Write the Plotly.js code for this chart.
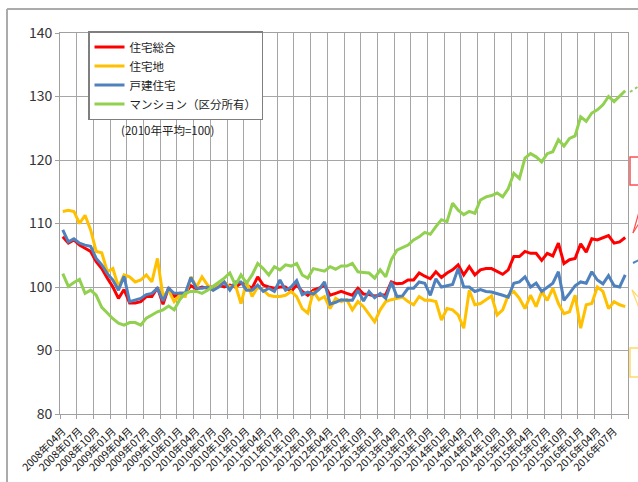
<!DOCTYPE html>
<html><head><meta charset="utf-8">
<script src="https://cdn.plot.ly/plotly-3.0.1.min.js"></script>
<style>html,body{margin:0;padding:0;background:#fff;} #chart{width:638px;height:482px;}</style>
</head><body><div id="chart"></div>
<script>
// Categories: monthly, 2008年04月 .. 2016年09月
const startYear = 2008, startMonth = 4, monthCount = 102;
const months = [];
for (let k = 0; k < monthCount; k++) {
  const m = startMonth - 1 + k;
  const y = startYear + Math.floor(m / 12);
  const mm = (m % 12) + 1;
  months.push(y + '年' + (mm < 10 ? '0' : '') + mm + '月');
}
const seriesNames = ['住宅総合', '住宅地', '戸建住宅', 'マンション（区分所有）'];
const noteText = '(2010年平均=100)';
const yTicks = [80, 90, 100, 110, 120, 130, 140];

const sogo = [107.9,106.9,107.4,106.6,106.1,105.6,104.0,102.9,101.4,100.0,
 98.2,99.6,97.5,97.5,97.7,98.5,98.5,99.9,97.3,99.9,
 98.5,99.0,99.0,100.2,99.7,100.0,99.8,100.0,100.3,100.0,
 100.3,100.0,100.6,100.3,99.8,101.6,100.3,100.0,99.8,100.0,
 100.0,99.3,100.3,99.3,98.7,99.5,99.8,100.3,98.7,99.0,
 99.3,99.0,98.7,99.8,98.9,98.8,98.6,98.7,98.8,100.8,
 100.5,100.6,101.1,101.1,102.2,101.7,101.3,102.4,101.5,102.2,
 102.7,103.5,101.9,103.2,101.9,102.7,102.9,102.9,102.4,102.0,
 102.7,104.8,104.8,105.6,105.3,105.3,104.2,105.3,104.9,106.9,
 103.7,104.3,104.5,106.8,105.5,107.6,107.4,107.8,108.1,106.9,
 107.1,107.8];
const takuchi = [111.9,112.1,111.9,110.0,111.3,109.0,105.6,105.4,102.4,102.9,
 100.0,101.9,101.6,100.8,101.1,101.9,100.8,104.5,98.5,99.5,
 97.7,98.7,98.5,101.6,100.0,101.6,100.3,99.5,100.3,100.8,
 100.0,100.3,97.4,100.8,98.5,100.0,99.5,98.7,98.5,98.5,
 98.7,99.3,98.5,96.6,95.9,99.3,98.0,98.5,96.6,98.2,
 97.7,98.0,96.4,97.7,96.9,95.6,94.5,96.4,97.7,98.0,
 98.2,98.4,97.7,97.2,98.5,97.9,97.9,97.7,94.8,96.6,
 96.4,95.6,93.5,99.5,97.2,97.4,98.0,98.6,95.6,96.4,
 98.7,99.3,98.2,96.6,98.7,96.9,99.3,97.9,99.8,97.4,
 95.8,96.1,98.7,93.5,97.2,97.4,100.0,99.3,96.6,97.7,
 97.2,96.9];
const kodate = [109.0,107.1,107.6,106.9,106.6,106.4,104.5,103.5,102.1,101.1,
 99.5,101.7,97.7,97.9,98.2,98.8,99.0,99.8,97.8,99.8,
 99.0,99.0,99.0,101.5,99.8,99.8,100.0,99.5,100.0,100.8,
 99.5,100.8,100.8,99.5,99.5,100.3,99.3,99.8,99.3,101.1,
 99.5,100.0,101.0,98.8,99.2,98.9,99.6,100.8,97.3,97.6,
 98.0,97.9,97.9,99.5,97.8,99.3,98.3,99.0,98.2,100.8,
 98.5,98.6,99.8,99.8,100.8,100.6,98.7,101.3,100.0,100.2,
 100.4,102.9,100.0,100.0,99.3,99.6,99.3,99.2,99.0,98.7,
 98.4,100.6,100.8,101.6,100.0,100.6,99.3,100.0,100.6,102.4,
 97.9,99.0,100.2,100.8,100.6,102.4,101.1,100.5,101.8,100.2,
 100.0,101.9];
const mansion = [102.1,100.1,100.7,101.2,99.0,99.5,98.7,96.8,95.9,95.0,
 94.3,94.0,94.4,94.4,94.0,95.1,95.6,96.1,96.4,97.0,
 96.4,98.0,99.0,99.3,99.3,99.0,99.5,100.1,100.8,101.4,
 102.2,100.3,101.9,100.6,101.9,103.7,102.9,101.9,103.2,102.7,
 103.5,103.3,103.7,101.9,101.4,102.9,102.7,102.5,103.2,102.8,
 103.3,103.3,103.7,102.4,102.3,102.2,101.4,102.7,101.6,104.3,
 105.8,106.2,106.6,107.4,107.9,108.6,108.3,109.5,110.6,110.3,
 113.2,112.1,111.4,111.9,111.6,113.7,114.2,114.4,114.8,114.2,
 115.5,117.9,117.1,120.3,121.0,120.5,119.7,121.0,121.3,123.2,
 122.2,123.4,123.8,126.8,126.1,127.4,127.9,128.7,130.0,129.2,
 130.0,130.9];

const colors = ['#ff0000', '#ffc000', '#4f81bd', '#92d050'];
const allSeries = [sogo, takuchi, kodate, mansion];

const traces = allSeries.map((vals, k) => ({
  type: 'scatter', mode: 'lines', x: months, y: vals, name: seriesNames[k],
  line: {color: colors[k], width: 3}, hoverinfo: 'skip'
}));

// plot area in px: left 60, right 628, top 33, bottom 414
const W = 638, H = 482, L = 60, R = 10, T = 33, B = 68;
const pw = W - L - R, ph = H - T - B;
const px = x => (x - L) / pw;
const py = y => (H - B - y) / ph;

const shapes = [
  // outer chart-area frame
  {type:'line', xref:'paper', yref:'paper', x0:px(7), y0:py(9), x1:px(700), y1:py(9), line:{color:'#ababab', width:2}},
  {type:'line', xref:'paper', yref:'paper', x0:px(7), y0:py(9), x1:px(7), y1:py(520), line:{color:'#ababab', width:2}},
  // cut-off callouts at right edge
  {type:'line', xref:'paper', yref:'paper', x0:px(630), y0:py(92), x1:px(642), y1:py(84), line:{color:'#9bc86a', width:2, dash:'dot'}},
  {type:'rect', xref:'paper', yref:'paper', x0:px(630), y0:py(157), x1:px(670), y1:py(185), line:{color:'#ff5050', width:1.5}},
  {type:'line', xref:'paper', yref:'paper', x0:px(633), y0:py(233), x1:px(641), y1:py(205), line:{color:'#ff5050', width:1.2}},
  {type:'line', xref:'paper', yref:'paper', x0:px(633), y0:py(233), x1:px(641), y1:py(220), line:{color:'#ff5050', width:1.2}},
  {type:'line', xref:'paper', yref:'paper', x0:px(633), y0:py(263), x1:px(641), y1:py(259), line:{color:'#4f81bd', width:2}},
  {type:'line', xref:'paper', yref:'paper', x0:px(632), y0:py(290), x1:px(641), y1:py(313), line:{color:'#ffd966', width:1.2}},
  {type:'line', xref:'paper', yref:'paper', x0:px(632), y0:py(290), x1:px(641), y1:py(300), line:{color:'#ffd966', width:1.2}},
  {type:'rect', xref:'paper', yref:'paper', x0:px(630), y0:py(348), x1:px(670), y1:py(377), line:{color:'#ffd966', width:1.5}}
];

const layout = {
  width: W, height: H,
  margin: {l: L, r: R, t: T, b: B, pad: 0},
  paper_bgcolor: '#ffffff', plot_bgcolor: '#ffffff',
  font: {family: '"Noto Sans CJK JP", sans-serif', color: '#333333'},
  showlegend: true,
  legend: {
    x: px(88), y: py(31), xanchor: 'left', yanchor: 'top',
    bgcolor: '#ffffff', bordercolor: '#7f7f7f', borderwidth: 1.5,
    font: {family: '"Noto Sans CJK JP", sans-serif', size: 11.5, color: '#222222'},
    tracegroupgap: 0, itemwidth: 30
  },
  xaxis: {
    type: 'category', categoryorder: 'array', categoryarray: months,
    range: [-0.5, monthCount - 0.5],
    tickmode: 'linear', tick0: 0, dtick: 3, tickson: 'boundaries',
    tickangle: -45, ticks: 'outside', ticklen: 4, tickcolor: '#a0a0a0',
    ticklabelstandoff: 6,
    showgrid: true, gridcolor: '#a6a6a6', gridwidth: 1,
    showline: true, linecolor: '#a0a0a0', linewidth: 1, mirror: true,
    tickfont: {family: '"Noto Sans CJK JP", sans-serif', size: 10.5, color: '#111111'},
    zeroline: false, fixedrange: true
  },
  yaxis: {
    range: [80, 140], tickmode: 'array', tickvals: yTicks, ticktext: yTicks.map(String),
    ticks: 'outside', ticklen: 4, tickcolor: '#a0a0a0',
    showgrid: true, gridcolor: '#a6a6a6', gridwidth: 1,
    showline: true, linecolor: '#a0a0a0', linewidth: 1, mirror: true,
    tickfont: {family: '"Liberation Sans Narrow", "Noto Sans CJK JP", sans-serif', size: 14, color: '#333333'},
    zeroline: false, fixedrange: true
  },
  annotations: [{
    xref: 'paper', yref: 'paper', x: px(167), y: py(130), xanchor: 'center', yanchor: 'middle',
    text: noteText, showarrow: false,
    font: {family: '"Noto Sans CJK JP", sans-serif', size: 11.5, color: '#222222'}
  }],
  shapes: shapes
};

Plotly.newPlot('chart', traces, layout, {displayModeBar: false, staticPlot: true});
</script>
</body></html>
